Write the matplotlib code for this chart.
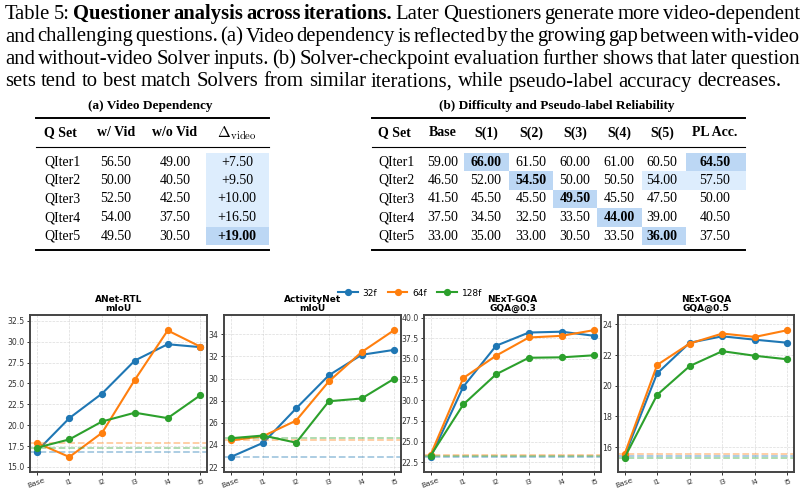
import numpy as np
import matplotlib
matplotlib.use('Agg')
import matplotlib.pyplot as plt
from matplotlib.patches import Rectangle

W, H = 805, 493
SERIF = 'Liberation Serif'

# ---- caption ----
caption = [
    [("Table 5: ", 'normal'), ("Questioner analysis across iterations.", 'bold'),
     (" Later Questioners generate more video-dependent", 'normal')],
    [("and challenging questions. (a) Video dependency is reflected by the growing gap between with-video", 'normal')],
    [("and without-video Solver inputs. (b) Solver-checkpoint evaluation further shows that later question", 'normal')],
    [("sets tend to best match Solvers from similar iterations, while pseudo-label accuracy decreases.", 'normal')],
]

# ---- table (a) ----
qsets = ['QIter1', 'QIter2', 'QIter3', 'QIter4', 'QIter5']
a_header = ['Q Set', 'w/ Vid', 'w/o Vid', r'$\Delta_{\mathrm{video}}$']
with_vid = [56.50, 50.00, 52.50, 54.00, 49.50]
without_vid = [49.00, 40.50, 42.50, 37.50, 30.50]
delta_video = [7.50, 9.50, 10.00, 16.50, 19.00]

# ---- table (b) ----
b_header = ['Q Set', 'Base', 'S(1)', 'S(2)', 'S(3)', 'S(4)', 'S(5)', 'PL Acc.']
b_base = [59.00, 46.50, 41.50, 37.50, 33.00]
b_solver = [
    [66.00, 61.50, 60.00, 61.00, 60.50],
    [52.00, 54.50, 50.00, 50.50, 54.00],
    [45.50, 45.50, 49.50, 45.50, 47.50],
    [34.50, 32.50, 33.50, 44.00, 39.00],
    [35.00, 33.00, 30.50, 33.50, 36.00],
]
pl_acc = [64.50, 57.50, 50.00, 40.50, 37.50]

# ---- charts ----
iters = ['Base', 'I1', 'I2', 'I3', 'I4', 'I5']
frames = ['32f', '64f', '128f']
anet_rtl = {
    '32f': [16.85, 20.85, 23.8, 27.75, 29.7, 29.35],
    '64f': [17.9, 16.2, 19.1, 25.45, 31.35, 29.4],
    '128f': [17.3, 18.3, 20.45, 21.5, 20.85, 23.6],
}
activitynet = {
    '32f': [22.9, 24.2, 27.3, 30.3, 32.15, 32.6],
    '64f': [24.4, 24.8, 26.2, 29.75, 32.4, 34.4],
    '128f': [24.6, 24.85, 24.2, 27.95, 28.2, 30.0],
}
gqa03 = {
    '32f': [23.1, 31.65, 36.6, 38.2, 38.3, 37.8],
    '64f': [23.4, 32.7, 35.4, 37.6, 37.8, 38.5],
    '128f': [23.3, 29.5, 33.15, 35.15, 35.2, 35.45],
}
gqa05 = {
    '32f': [15.4, 20.8, 22.8, 23.22, 23.0, 22.8],
    '64f': [15.52, 21.35, 22.75, 23.4, 23.18, 23.62],
    '128f': [15.3, 19.4, 21.28, 22.25, 21.95, 21.72],
}
titles = ['ANet-RTL\nmIoU', 'ActivityNet\nmIoU', 'NExT-GQA\nGQA@0.3', 'NExT-GQA\nGQA@0.5']
results = [anet_rtl, activitynet, gqa03, gqa05]

colors = {'32f': '#1f77b4', '64f': '#ff7f0e', '128f': '#2ca02c'}
LIGHT = '#ddedfd'
DARK = '#bcd7f4'

fig = plt.figure(figsize=(W / 100, H / 100), dpi=100)
bg = fig.add_axes([0, 0, 1, 1], zorder=0)
bg.set_xlim(0, W)
bg.set_ylim(H, 0)
bg.axis('off')
renderer = fig.canvas.get_renderer()


def width_of(t):
    return t.get_window_extent(renderer).width


# fit caption size to the last (unjustified) line
probe = bg.text(0, 0, caption[3][0][0], fontsize=12, family=SERIF)
fs = 12 * 775 / width_of(probe)
probe.remove()


def put_line(segs, y, justify):
    words = []
    for txt, wt in segs:
        for w in txt.split():
            words.append((w, wt))
    arts, widths = [], []
    for w, wt in words:
        t = bg.text(0, y, w, fontsize=fs, fontweight=wt, family=SERIF, va='baseline', ha='left')
        arts.append(t)
        widths.append(width_of(t))
    if justify:
        gap = (800 - 5 - sum(widths)) / (len(words) - 1)
    else:
        gap = fs * 100 / 72 * 0.25
    x = 5
    for t, wd in zip(arts, widths):
        t.set_x(x)
        x += wd + gap


for i, segs in enumerate(caption):
    put_line(segs, 19 + i * 22.5, justify=(i < 3))

# ---- tables ----
row_y = [162, 180.5, 199, 217.5, 236]
row_h = 18.5
TS = 10


def rules(x0, x1):
    bg.plot([x0, x1], [118, 118], color='black', lw=1.4)
    bg.plot([x0, x1], [147, 147], color='black', lw=0.8)
    bg.plot([x0, x1], [249.5, 249.5], color='black', lw=1.4)


def cell(x0, x1, r, color):
    bg.add_patch(Rectangle((x0, row_y[r] - row_h / 2), x1 - x0, row_h, color=color, lw=0, zorder=0))


# (a)
bg.text(150, 106, '(a) Video Dependency', fontsize=9.5, fontweight='bold', family=SERIF,
        ha='center', va='center')
rules(36, 269)
a_x = [44, 116, 175, 237]
for j, h in enumerate(a_header):
    if j == 0:
        bg.text(a_x[j], 133, h, fontsize=TS, fontweight='bold', family=SERIF, ha='left', va='center')
    elif j == 3:
        bg.text(a_x[j], 133, h, fontsize=TS + 1, family=SERIF, ha='center', va='center', math_fontfamily='cm')
    else:
        bg.text(a_x[j], 133, h, fontsize=TS, fontweight='bold', family=SERIF, ha='center', va='center')
for r in range(5):
    cell(206, 269, r, DARK if r == 4 else LIGHT)
    bg.text(a_x[0], row_y[r], qsets[r], fontsize=TS, family=SERIF, ha='left', va='center')
    bg.text(a_x[1], row_y[r], '%.2f' % with_vid[r], fontsize=TS, family=SERIF, ha='center', va='center')
    bg.text(a_x[2], row_y[r], '%.2f' % without_vid[r], fontsize=TS, family=SERIF, ha='center', va='center')
    bg.text(a_x[3], row_y[r], '+%.2f' % delta_video[r], fontsize=TS, family=SERIF, ha='center', va='center',
            fontweight='bold' if r == 4 else 'normal')

# (b)
bg.text(557, 106, '(b) Difficulty and Pseudo-label Reliability', fontsize=9.5, fontweight='bold',
        family=SERIF, ha='center', va='center')
rules(372, 745)
b_x = [378, 443, 486, 531, 575, 619, 662, 715]
s_edges = [464, 509, 553, 597, 642, 686]
for j, h in enumerate(b_header):
    bg.text(b_x[j], 133, h, fontsize=TS, fontweight='bold', family=SERIF,
            ha='left' if j == 0 else 'center', va='center')
for r in range(5):
    cell(s_edges[r], s_edges[r + 1], r, DARK)
    bg.text(b_x[0], row_y[r], qsets[r], fontsize=TS, family=SERIF, ha='left', va='center')
    bg.text(b_x[1], row_y[r], '%.2f' % b_base[r], fontsize=TS, family=SERIF, ha='center', va='center')
    for k in range(5):
        bg.text(b_x[2 + k], row_y[r], '%.2f' % b_solver[r][k], fontsize=TS, family=SERIF,
                ha='center', va='center', fontweight='bold' if k == r else 'normal')
    bg.text(b_x[7], row_y[r], '%.2f' % pl_acc[r], fontsize=TS, family=SERIF, ha='center', va='center',
            fontweight='bold' if r == 0 else 'normal')
cell(642, 686, 1, LIGHT)
cell(686, 746, 0, DARK)
cell(686, 746, 1, LIGHT)

# ---- line charts ----
boxes = [(30, 207), (224, 401), (424, 601), (618, 794)]
ylims = [(14.4, 33.2), (21.55, 35.75), (21.33, 40.32), (14.37, 24.61)]
yticks = [np.arange(15, 32.6, 2.5), np.arange(22, 34.1, 2), np.arange(22.5, 40.1, 2.5), np.arange(16, 24.1, 2)]
yfmt = ['%.1f', '%d', '%.1f', '%d']
x = np.arange(len(iters))
handles = []
for p in range(4):
    l, r = boxes[p]
    ax = fig.add_axes([l / W, 1 - 472 / H, (r - l) / W, (472 - 315) / H], zorder=2)
    for f in frames:
        vals = results[p][f]
        ax.axhline(vals[0], color=colors[f], ls='--', lw=1.3, alpha=0.4)
        h, = ax.plot(x, vals, '-o', color=colors[f], lw=1.5, ms=4.2, label=f)
        if p == 0:
            handles.append(h)
    ax.set_xlim(-0.2, 5.2)
    ax.set_ylim(*ylims[p])
    ax.set_xticks(x)
    ax.set_xticklabels(iters, rotation=20, fontsize=5.4, color='#333333')
    ax.set_yticks(yticks[p])
    ax.set_yticklabels([yfmt[p] % v for v in yticks[p]], fontsize=5.6, color='#333333')
    ax.tick_params(length=2.5, width=0.7, pad=1.5, colors='#333333')
    ax.grid(True, ls='--', lw=0.5, color='#cccccc', alpha=0.7)
    for s in ax.spines.values():
        s.set_color('#444444')
        s.set_linewidth(1.4)
    ax.set_title(titles[p], fontsize=6.5, fontweight='bold', pad=3, linespacing=1.0)

fig.legend(handles, frames, loc='center', bbox_to_anchor=(410 / W, 1 - 293 / H), ncol=3,
           frameon=False, fontsize=6.5, handlelength=2.2, columnspacing=1.2, handletextpad=0.5)

fig.savefig('out.png', dpi=100, facecolor='white')
